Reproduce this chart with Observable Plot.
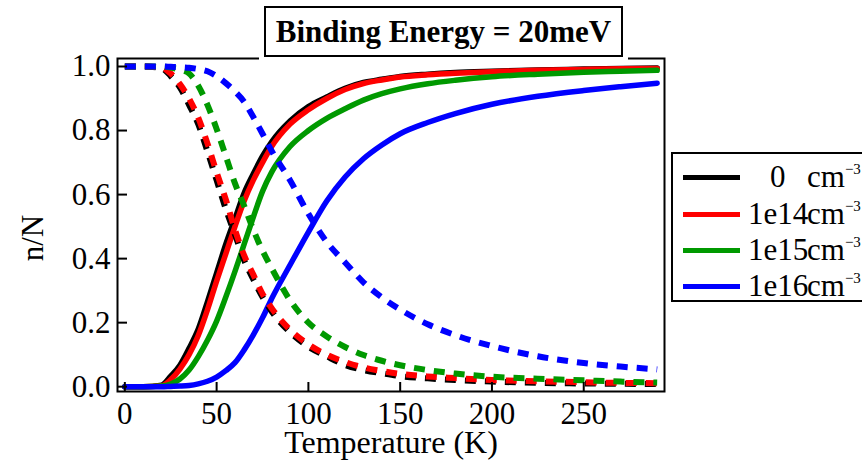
<!DOCTYPE html>
<html><head><meta charset="utf-8">
<script src="https://cdn.jsdelivr.net/npm/d3@7"></script>
<script src="https://cdn.jsdelivr.net/npm/@observablehq/plot@0.6"></script>
<style>
html,body{margin:0;padding:0;background:#fff;}
body{width:862px;height:468px;overflow:hidden;position:relative;font-family:"Liberation Serif","Times New Roman",serif;color:#000;}
#chart{position:absolute;left:0;top:0;}
#chart svg, #chart svg g, #chart svg text{font-family:"Liberation Serif","Times New Roman",serif !important;}
#mask{position:absolute;left:259px;top:55px;width:369px;height:6px;background:#fff;}
#title{position:absolute;left:264px;top:6px;width:355px;height:47px;border:2px solid #000;background:#fff;font-weight:bold;font-size:31px;line-height:47px;text-align:center;white-space:nowrap;}
#ylabel{position:absolute;left:32px;top:238px;transform:translate(-50%,-50%) rotate(-90deg);font-size:31px;line-height:31px;white-space:nowrap;}
#legend{position:absolute;left:671px;top:152px;width:400px;height:146px;border:2px solid #000;background:#fff;}
.row{position:absolute;left:0;height:36px;line-height:36px;font-size:31px;white-space:nowrap;width:400px;}
.swatch{position:absolute;left:10px;width:57px;height:5px;top:15.5px;}
.num{position:absolute;top:0;line-height:36px;}
.unit{position:absolute;top:0;left:134px;line-height:36px;}
.sup{font-size:15px;line-height:0;position:relative;top:-13px;}
</style>
</head><body>
<div id="chart"></div>
<div id="mask"></div>
<div id="title"></div>
<div id="ylabel"></div>
<div id="legend"></div>
<script>
// ---- data ----
const titleText = "Binding Energy = 20meV";
const xLabel = "Temperature (K)";
const yLabel = "n/N";
const seriesNames = ["0", "1e14", "1e15", "1e16"];
const seriesColors = ["#000000", "#ff0000", "#009900", "#0000ff"];
const unitText = "cm";
const unitSup = "\u22123";
const xTicks = [0, 50, 100, 150, 200, 250];
const yTicks = [0, 0.2, 0.4, 0.6, 0.8, 1.0];

const temperature = [0, 10, 20, 25, 30, 35, 40, 45, 50, 55, 60, 65, 70, 75, 80, 90, 100, 110, 120, 130, 140, 150, 165, 180, 200, 225, 250, 270, 290];

// solid curves: free fraction n/N
const solid0    = [0, 0, 0.005, 0.033, 0.067, 0.12, 0.18, 0.265, 0.355, 0.445, 0.525, 0.605, 0.665, 0.72, 0.765, 0.83, 0.875, 0.905, 0.932, 0.95, 0.96, 0.969, 0.976, 0.981, 0.985, 0.989, 0.992, 0.994, 0.995];
const solid1e14 = [0, 0, 0.003, 0.022, 0.055, 0.1, 0.16, 0.24, 0.33, 0.415, 0.5, 0.58, 0.645, 0.7, 0.75, 0.82, 0.865, 0.9, 0.928, 0.947, 0.958, 0.967, 0.974, 0.979, 0.984, 0.988, 0.991, 0.993, 0.994];
const solid1e15 = [0, 0, 0.002, 0.008, 0.024, 0.052, 0.094, 0.145, 0.205, 0.28, 0.36, 0.445, 0.53, 0.61, 0.67, 0.75, 0.8, 0.838, 0.868, 0.895, 0.915, 0.93, 0.946, 0.957, 0.968, 0.976, 0.982, 0.985, 0.988];
const solid1e16 = [0, 0, 0, 0.001, 0.002, 0.004, 0.009, 0.017, 0.03, 0.05, 0.075, 0.115, 0.162, 0.215, 0.275, 0.38, 0.483, 0.58, 0.655, 0.712, 0.755, 0.79, 0.825, 0.853, 0.882, 0.907, 0.925, 0.937, 0.948];

// dashed curves: bound fraction
const dash0    = [1, 1, 0.995, 0.97, 0.935, 0.88, 0.82, 0.735, 0.645, 0.555, 0.475, 0.395, 0.335, 0.28, 0.235, 0.17, 0.125, 0.095, 0.068, 0.052, 0.042, 0.033, 0.026, 0.021, 0.016, 0.012, 0.01, 0.009, 0.008];
const dash1e14 = [1, 1, 0.997, 0.978, 0.945, 0.9, 0.84, 0.76, 0.67, 0.585, 0.49, 0.41, 0.35, 0.29, 0.245, 0.178, 0.132, 0.1, 0.077, 0.06, 0.049, 0.04, 0.032, 0.027, 0.021, 0.017, 0.014, 0.012, 0.011];
const dash1e15 = [1, 1, 1, 0.997, 0.99, 0.978, 0.94, 0.88, 0.805, 0.72, 0.635, 0.565, 0.49, 0.425, 0.37, 0.27, 0.2, 0.157, 0.124, 0.099, 0.081, 0.067, 0.052, 0.041, 0.031, 0.025, 0.02, 0.016, 0.013];
const dash1e16 = [1, 1, 1, 0.999, 0.998, 0.996, 0.992, 0.985, 0.97, 0.948, 0.922, 0.89, 0.842, 0.79, 0.736, 0.645, 0.54, 0.452, 0.388, 0.326, 0.279, 0.241, 0.195, 0.161, 0.127, 0.095, 0.074, 0.063, 0.054];

const solidSeries = [solid0, solid1e14, solid1e15, solid1e16];
const dashSeries = [dash0, dash1e14, dash1e15, dash1e16];

const rowsOf = (arr) => temperature.map((t, i) => ({T: t, v: arr[i]}));

const marks = [];
solidSeries.forEach((arr, k) => {
  marks.push(Plot.line(rowsOf(arr), {x: "T", y: "v", stroke: seriesColors[k], strokeWidth: 5.5, curve: "monotone-x"}));
});
dashSeries.forEach((arr, k) => {
  marks.push(Plot.line(rowsOf(arr), {x: "T", y: "v", stroke: seriesColors[k], strokeWidth: 6, strokeDasharray: "11,9", curve: "monotone-x", strokeLinecap: "butt"}));
});

const FONT = "Liberation Serif, serif";
const chart = Plot.plot({
  width: 862,
  height: 468,
  marginLeft: 117,
  marginRight: 198,
  marginTop: 58,
  marginBottom: 77,
  style: {fontFamily: FONT, fontSize: "31px", color: "#000", background: "transparent"},
  x: {domain: [-4, 294], label: null},
  y: {domain: [-0.015, 1.025], label: null},
  marks: [
    ...marks,
    Plot.frame({stroke: "#000", strokeWidth: 2}),
    Plot.axisY(yTicks, {anchor: "left", tickSize: -10, tickPadding: 17, strokeWidth: 2, fontSize: 31, fontFamily: FONT, tickFormat: d3.format(".1f"), label: null}),
    Plot.axisX(xTicks, {anchor: "bottom", tickSize: -9, tickPadding: 19, strokeWidth: 2, fontSize: 31, fontFamily: FONT, tickFormat: d3.format("d"), label: null}),
    Plot.text([xLabel], {frameAnchor: "bottom", dy: 61, fontSize: 32, fontFamily: FONT, fill: "#000"})
  ]
});
document.getElementById("chart").appendChild(chart);

document.getElementById("title").textContent = titleText;
document.getElementById("ylabel").textContent = yLabel;

const legend = document.getElementById("legend");
const rowCenters = [23, 60, 96, 132];
seriesNames.forEach((name, k) => {
  const row = document.createElement("div");
  row.className = "row";
  row.style.top = (rowCenters[k] - 18) + "px";
  const sw = document.createElement("div");
  sw.className = "swatch";
  sw.style.background = seriesColors[k];
  row.appendChild(sw);
  const num = document.createElement("span");
  num.className = "num";
  num.textContent = name;
  num.style.left = (name.length === 1 ? 97 : 75) + "px";
  row.appendChild(num);
  const unit = document.createElement("span");
  unit.className = "unit";
  unit.innerHTML = unitText + '<span class="sup">' + unitSup + '</span>';
  row.appendChild(unit);
  legend.appendChild(row);
});
</script>
</body></html>
